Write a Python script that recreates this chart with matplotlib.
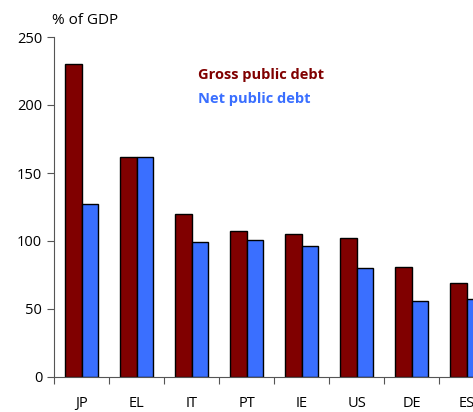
import matplotlib.pyplot as plt
import numpy as np

plt.rcParams['font.family'] = ['Open Sans', 'DejaVu Sans']

countries = ["JP", "EL", "IT", "PT", "IE", "US", "DE", "ES"]
gross_debt = [230, 162, 120, 107, 105, 102, 81, 69]
net_debt = [127, 162, 99, 101, 96, 80, 56, 57]

GROSS_COL = "#800000"
NET_COL = "#3a6fff"

fig = plt.figure(figsize=(4.73, 4.12), dpi=100)
# axes runs past the right edge, so the last category is cut like the original
ax = fig.add_axes([54 / 473, 1 - 377 / 412, 440 / 473, 340 / 412])

x = np.arange(len(countries))
w = 0.3
ax.bar(x - w / 2, gross_debt, w, color=GROSS_COL, edgecolor="black", linewidth=1)
ax.bar(x + w / 2, net_debt, w, color=NET_COL, edgecolor="black", linewidth=1)

ax.set_xlim(-0.5, len(countries) - 0.5)
ax.set_ylim(0, 250)
ax.set_yticks(np.arange(0, 251, 50))

ax.set_xticks(np.arange(len(countries) + 1) - 0.5)
ax.set_xticklabels([])
ax.set_xticks(x, minor=True)
ax.set_xticklabels(countries, minor=True)
ax.tick_params(axis="x", which="major", direction="out", length=5, color="#555555")
ax.tick_params(axis="x", which="minor", length=0, pad=14, labelsize=10.5)
ax.tick_params(axis="y", direction="out", length=5, color="#555555", labelsize=10.5)

for s in ["top", "right"]:
    ax.spines[s].set_visible(False)
ax.spines["left"].set_color("#555555")
ax.spines["bottom"].set_color("#555555")

fig.text(52 / 473, 1 - 20 / 412, "% of GDP", fontsize=11, va="center", ha="left")
fig.text(198 / 473, 1 - 75 / 412, "Gross public debt", color=GROSS_COL,
         fontsize=10.5, fontweight="bold", va="center", ha="left")
fig.text(198 / 473, 1 - 99 / 412, "Net public debt", color=NET_COL,
         fontsize=10.5, fontweight="bold", va="center", ha="left")

plt.savefig("out.png", dpi=100)
